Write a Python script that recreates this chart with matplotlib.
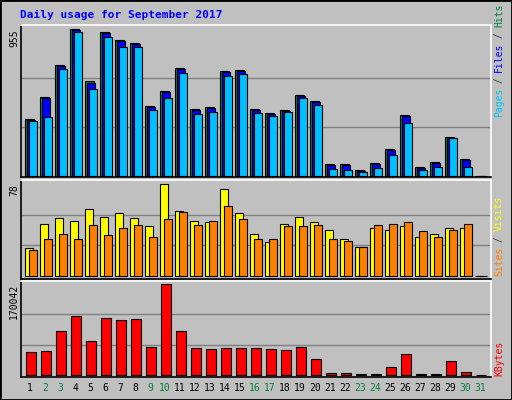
import matplotlib
matplotlib.use("Agg")
import matplotlib.pyplot as plt
from matplotlib.patches import Rectangle

days = list(range(1, 32))
hits = [369, 512, 723, 955, 616, 935, 883, 864, 454, 553, 701, 434, 447, 682, 688,
        434, 408, 428, 525, 486, 76, 76, 37, 82, 174, 395, 56, 89, 252, 109, 0]
files = [365, 504, 716, 950, 606, 930, 880, 860, 450, 548, 692, 430, 442, 675, 680,
         430, 404, 424, 518, 480, 72, 72, 34, 78, 170, 390, 52, 86, 248, 104, 0]
pages = [356, 382, 695, 935, 564, 903, 838, 838, 428, 506, 669, 402, 415, 649, 662,
         408, 389, 415, 506, 460, 43, 37, 28, 50, 135, 343, 37, 56, 245, 56, 0]
visits = [23.7, 44, 49, 47, 57, 50, 53, 49, 42, 78, 55, 47, 46, 74, 53,
          36, 29, 44, 50, 46, 39, 31, 25, 41, 39, 42, 33, 36, 41, 41, 0]
sites = [22, 31, 36, 31, 43, 35, 41, 43, 33, 48, 54, 43, 47, 59, 48,
         31, 31, 42, 42, 43, 31, 30, 25, 43, 44, 46, 38, 33, 39, 44, 0]
kbytes = [42977, 44846, 82218, 110246, 63532, 106509, 102771, 104640, 52321, 170042,
          82218, 50452, 48583, 50452, 50452, 50452, 48583, 46714, 52321, 29898,
          3737, 3737, 1869, 1869, 14949, 39240, 1869, 1869, 26160, 5606, 0]
weekends = [2, 3, 9, 10, 16, 17, 23, 24, 30, 31]

W, H = 512, 400
BG = "#c0c0c0"
MONO = "DejaVu Sans Mono"
fig = plt.figure(figsize=(W / 100, H / 100), dpi=100, facecolor=BG)

# outer frame
fig.patches.append(Rectangle((0, 0), 1, 1, transform=fig.transFigure, fill=False,
                             edgecolor="black", linewidth=2))
fig.text(20 / W, 1 - 15 / H, "Daily usage for September 2017", color="#0000ff",
         family=MONO, fontweight="bold", fontsize=8, va="center")

X0, X1 = 21, 491


def panel(top, bottom, base, ymax_px):
    ax = fig.add_axes([X0 / W, 1 - bottom / H, (X1 - X0) / W, (bottom - top) / H])
    ax.set_facecolor(BG)
    ax.set_xlim(X0, X1)
    ax.set_xticks([])
    ax.set_yticks([])
    for s in ax.spines.values():
        s.set_color("white")
        s.set_linewidth(1.2)
    ax.spines["left"].set_color("black")
    ax.spines["bottom"].set_color("black")
    return ax


def setup_y(ax, vmax, top, bottom, base, vtop):
    # base: pixel y of zero line, vtop: pixel y of vmax
    scale = vmax / (base - vtop)
    ax.set_ylim(-(bottom - base) * scale, (base - top) * scale)
    for f in (1 / 3, 2 / 3):
        ax.axhline(vmax * f, color="#808080", linewidth=1, zorder=0)


def left(d, off):
    return 25 + 15 * (d - 1) + off


ekw = dict(edgecolor="black", linewidth=0.8, align="edge")

# top panel: hits / files / pages
ax1 = panel(25, 177, 176, 29)
setup_y(ax1, 955, 25, 177, 176, 29)
ax1.bar([left(d, 0) for d in days], hits, width=9, color="#008040", **ekw)
ax1.bar([left(d, 1.7) for d in days], files, width=8.5, color="#0000ff", **ekw)
ax1.bar([left(d, 4) for d in days], pages, width=7.5, color="#00c0ff", **ekw)

# middle panel: visits / sites
ax2 = panel(180, 279, 276, 184)
setup_y(ax2, 78, 180, 279, 276, 184)
ax2.bar([left(d, 0) for d in days], visits, width=8, color="#ffff00", **ekw)
ax2.bar([left(d, 4) for d in days], sites, width=7.5, color="#ff8000", **ekw)

# bottom panel: kbytes
ax3 = panel(281, 377, 375, 284)
setup_y(ax3, 170042, 281, 377, 375, 284)
ax3.bar([left(d, 1) for d in days], kbytes, width=10, color="#ff0000", **ekw)

# axis max labels
for txt, y in (("955", 29), ("78", 184), ("170042", 284)):
    fig.text(14 / W, 1 - y / H, txt, rotation=90, family=MONO, fontsize=7,
             ha="center", va="top")

# right side labels (read bottom to top)
def right_label(parts, ybottom):
    y = ybottom
    for txt, col in parts:
        t = fig.text(499 / W, 1 - y / H, txt, rotation=90, color=col, family=MONO,
                     fontsize=7, ha="center", va="bottom")
        y -= len(txt) * 5.6


right_label([("Pages", "#00c0ff"), (" / ", "#404040"), ("Files", "#0000ff"),
             (" / ", "#404040"), ("Hits", "#008040")], 117)
right_label([("Sites", "#ff8000"), (" / ", "#404040"), ("Visits", "#ffff00")], 276)
right_label([("KBytes", "#ff0000")], 376)

# day labels
for d in days:
    fig.text((left(d, 5)) / W, 1 - 388 / H, str(d), family=MONO, fontsize=7,
             ha="center", va="center",
             color="#008040" if d in weekends else "black")

fig.savefig("out.png", dpi=100, facecolor=BG)
